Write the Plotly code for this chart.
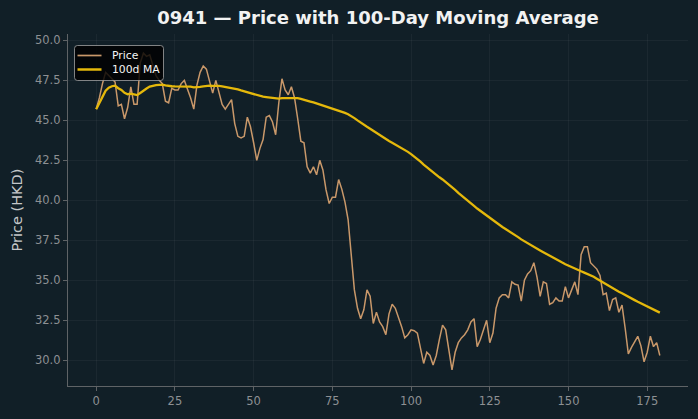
import plotly.graph_objects as go
import pandas as pd

title_text = "0941 — Price with 100-Day Moving Average"
y_label = "Price (HKD)"
series_names = ["Price", "100d MA"]
series_colors = ["#c9986a", "#e5b80b"]
series_widths = [1.5, 2.3]
ma_window = 100

price = [
    45.7, 46.4, 47.3, 48.0, 47.8, 47.6, 47.4, 45.9, 46.0, 45.1,
    45.8, 47.1, 46.0, 46.0, 48.6, 49.2, 49.0, 49.1, 48.4, 47.8,
    47.5, 47.3, 46.2, 46.1, 47.0, 46.9, 46.9, 47.3, 47.5, 47.0,
    46.4, 45.7, 47.2, 48.0, 48.4, 48.2, 47.4, 46.7, 47.5, 46.8,
    46.0, 45.7, 46.0, 46.3, 44.8, 44.0, 43.9, 44.0, 45.2, 44.6,
    43.6, 42.5, 43.25, 43.8, 45.2, 45.3, 44.9, 44.1, 46.1, 47.6,
    46.9, 46.6, 47.1, 46.4, 45.1, 43.7, 43.6, 42.1, 41.7, 42.1,
    41.6, 42.5, 41.9, 40.65, 39.8, 40.2, 40.2, 41.3, 40.7, 39.9,
    38.8, 36.5, 34.4, 33.25, 32.6, 33.15, 34.4, 34.0, 32.3, 33.0,
    32.4, 32.1, 31.6, 32.9, 33.5, 33.25, 32.7, 32.1, 31.4, 31.6,
    31.9, 31.85, 31.7, 30.75, 29.8, 30.5, 30.3, 29.7, 30.3, 31.3,
    32.2, 31.9, 30.6, 29.4, 30.5, 31.1, 31.4, 31.6, 31.9, 32.4,
    32.6, 30.85, 31.3, 31.9, 32.5, 31.1, 31.7, 33.25, 33.9, 34.1,
    34.1, 33.9, 34.9, 34.75, 34.7, 33.7, 35.0, 35.4, 35.6, 36.1,
    35.2, 34.0, 34.9, 34.8, 33.5, 33.6, 33.9, 33.7, 33.7, 34.6,
    33.9, 34.4, 34.9, 34.1, 36.6, 37.1, 37.1, 36.1, 35.9, 35.7,
    35.3, 34.1, 34.2, 33.1, 33.8, 33.9, 33.0, 33.45, 32.0, 30.4,
    30.8, 31.2, 31.5, 30.9, 29.9, 30.5, 31.5, 30.85, 31.1, 30.3,
]
day = list(range(len(price)))
moving_avg = pd.Series(price).rolling(ma_window, min_periods=1).mean().tolist()

x_ticks = [0, 25, 50, 75, 100, 125, 150, 175]
y_ticks = [30.0, 32.5, 35.0, 37.5, 40.0, 42.5, 45.0, 47.5, 50.0]

BG = "#111f27"
GRID = "rgba(255,255,255,0.045)"
SPINE = "#5f6366"
TICKC = "#8d9093"
FONT = "DejaVu Sans"

W, H = 698, 419
ML, MR, MT, MB = 68, 10, 34, 33
PW, PH = W - ML - MR, H - MT - MB


def px_x(p):
    return (p - ML) / PW


def px_y(p):
    return (H - MB - p) / PH


fig = go.Figure()
fig.add_trace(go.Scatter(x=day, y=price, mode="lines", name=series_names[0], showlegend=False,
                         line=dict(color=series_colors[0], width=series_widths[0])))
fig.add_trace(go.Scatter(x=day, y=moving_avg, mode="lines", name=series_names[1], showlegend=False,
                         line=dict(color=series_colors[1], width=series_widths[1])))

# legend box (matplotlib-style, drawn as layout decoration)
x0, x1, y0, y1, r = 74.5, 163.5, 45.5, 80.5, 3
path = (f"M {px_x(x0 + r)},{px_y(y0)} L {px_x(x1 - r)},{px_y(y0)} "
        f"Q {px_x(x1)},{px_y(y0)} {px_x(x1)},{px_y(y0 + r)} "
        f"L {px_x(x1)},{px_y(y1 - r)} Q {px_x(x1)},{px_y(y1)} {px_x(x1 - r)},{px_y(y1)} "
        f"L {px_x(x0 + r)},{px_y(y1)} Q {px_x(x0)},{px_y(y1)} {px_x(x0)},{px_y(y1 - r)} "
        f"L {px_x(x0)},{px_y(y0 + r)} Q {px_x(x0)},{px_y(y0)} {px_x(x0 + r)},{px_y(y0)} Z")
shapes = [dict(type="path", xref="paper", yref="paper", path=path, layer="above",
               fillcolor="rgba(0,0,0,0.82)", line=dict(color="rgba(170,170,170,0.75)", width=1))]
annotations = []
row_y = [55.5, 69.5]
for name, col, wd, ry in zip(series_names, series_colors, series_widths, row_y):
    shapes.append(dict(type="line", xref="paper", yref="paper", layer="above",
                       x0=px_x(77.5), x1=px_x(101.5), y0=px_y(ry), y1=px_y(ry),
                       line=dict(color=col, width=wd + 0.2)))
    annotations.append(dict(xref="paper", yref="paper", x=px_x(109.5), y=px_y(ry),
                            xanchor="left", yanchor="middle", showarrow=False, text=name,
                            font=dict(family=FONT, size=10.8, color="#f5f5f5")))

fig.update_layout(
    width=W, height=H,
    margin=dict(l=ML, r=MR, t=MT, b=MB),
    paper_bgcolor=BG, plot_bgcolor=BG,
    font=dict(family=FONT, color=TICKC, size=11),
    title=dict(text="<b>" + title_text + "</b>", x=0.5, xref="paper", xanchor="center",
               y=0.957, yref="container", yanchor="middle",
               font=dict(family=FONT, size=18, color="#f2f2f2")),
    showlegend=False,
    shapes=shapes,
    annotations=annotations,
)
fig.update_xaxes(range=[-8.95, 187.95], tickvals=x_ticks, ticktext=[str(v) for v in x_ticks],
                 showgrid=True, gridcolor=GRID, gridwidth=1, zeroline=False,
                 showline=True, linecolor=SPINE, linewidth=1.2,
                 ticks="outside", ticklen=4, tickcolor=SPINE, tickwidth=1,
                 tickfont=dict(family=FONT, size=11.5, color=TICKC))
fig.update_yaxes(range=[28.39, 50.4], tickvals=y_ticks, ticktext=[f"{v:.1f}" for v in y_ticks],
                 showgrid=True, gridcolor=GRID, gridwidth=1, zeroline=False,
                 showline=True, linecolor=SPINE, linewidth=1.2,
                 ticks="outside", ticklen=4, tickcolor=SPINE, tickwidth=1,
                 tickfont=dict(family=FONT, size=11.5, color=TICKC),
                 title=dict(text=y_label, font=dict(family=FONT, size=14.5, color="#c4c7c9"),
                            standoff=8))

fig.write_html("out.html")
